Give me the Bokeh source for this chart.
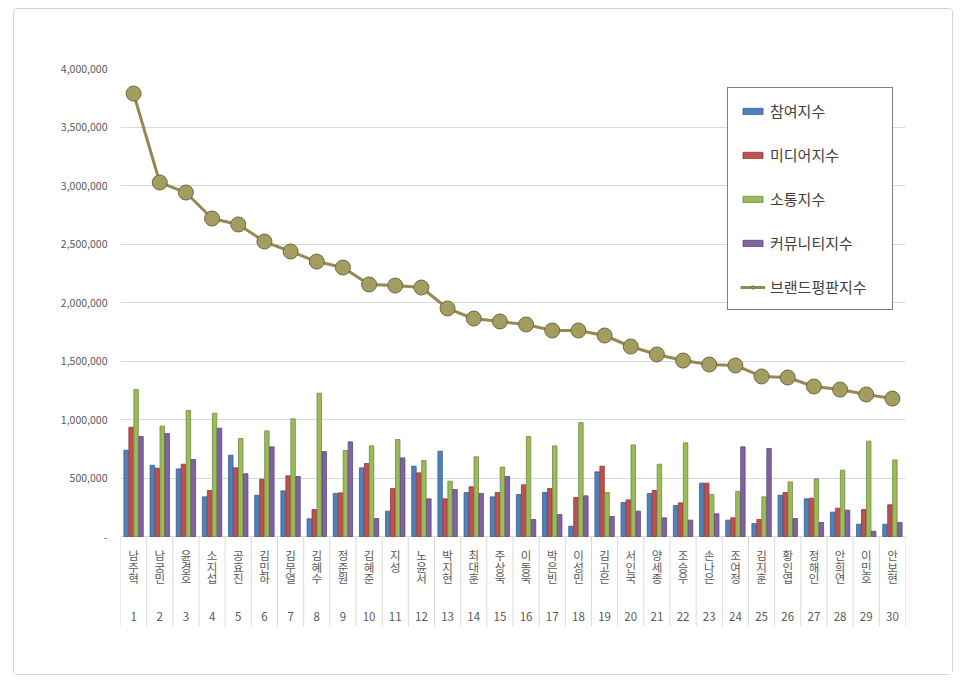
from bokeh.plotting import figure
from bokeh.models import (FixedTicker, CustomJSTickFormatter, Legend, LegendItem,
                          ColumnDataSource, Range1d)
from bokeh.transform import dodge
from bokeh.core.properties import value
from bokeh.embed import file_html
from bokeh.resources import INLINE

# ---------------- data ----------------
ranks = list(range(1, 31))
names = ["남주혁", "남궁민", "윤경호", "소지섭", "공효진", "김민하", "김무열", "김혜수", "정준원", "김혜준",
         "지성", "노윤서", "박지현", "최대훈", "주상욱", "이동욱", "박은빈", "이성민", "김고은", "서인국",
         "양세종", "조승우", "손나은", "조여정", "김지훈", "황인엽", "정해인", "안희연", "이민호", "안보현"]
participation = [738000, 609000, 578000, 339000, 695000, 353000, 390000, 151000, 368000, 587000,
                 217000, 601000, 729000, 376000, 339000, 359000, 376000, 88000, 553000, 291000,
                 368000, 265000, 456000, 140000, 111000, 353000, 322000, 208000, 105000, 105000]
media = [934000, 584000, 618000, 393000, 587000, 490000, 519000, 231000, 373000, 624000,
         410000, 544000, 322000, 425000, 376000, 442000, 410000, 333000, 601000, 313000,
         393000, 288000, 456000, 160000, 145000, 376000, 328000, 242000, 231000, 271000]
communication = [1256000, 943000, 1077000, 1054000, 838000, 903000, 1006000, 1225000, 735000, 775000,
                 829000, 650000, 473000, 681000, 593000, 855000, 775000, 974000, 376000, 783000,
                 618000, 801000, 359000, 385000, 339000, 467000, 493000, 567000, 815000, 655000]
community = [855000, 880000, 658000, 926000, 536000, 767000, 513000, 726000, 809000, 154000,
             672000, 322000, 402000, 368000, 513000, 145000, 188000, 348000, 171000, 217000,
             160000, 140000, 194000, 767000, 752000, 154000, 120000, 225000, 45000, 120000]
brand = [3786000, 3026000, 2940000, 2718000, 2667000, 2521000, 2436000, 2350000, 2299000, 2154000,
         2145000, 2128000, 1949000, 1863000, 1838000, 1812000, 1761000, 1761000, 1718000, 1624000,
         1556000, 1504000, 1470000, 1462000, 1368000, 1359000, 1282000, 1256000, 1214000, 1179000]
series_labels = ["참여지수", "미디어지수", "소통지수", "커뮤니티지수", "브랜드평판지수"]
y_ticks = [0, 500000, 1000000, 1500000, 2000000, 2500000, 3000000, 3500000, 4000000]

# ---------------- figure ----------------
KFONT = "Noto Sans CJK KR"
Y_MIN = -769000
p = figure(width=940, height=667, x_range=Range1d(0.5, len(ranks) + 0.5),
           y_range=Range1d(Y_MIN, y_ticks[-1]),
           output_backend="svg", toolbar_location=None,
           min_border_left=106, min_border_right=49, min_border_top=59, min_border_bottom=50)
p.styles = {"border": "1px solid #d4d4d4", "border-radius": "4px",
            "position": "relative", "left": "13px", "top": "8px"}
p.outline_line_color = None
p.background_fill_color = "white"
p.border_fill_color = "white"

p.xaxis.visible = False
p.xgrid.visible = False
ticker = FixedTicker(ticks=y_ticks)
p.yaxis.ticker = ticker
p.ygrid.ticker = ticker
p.ygrid.grid_line_color = "#d9d9d9"
p.yaxis.formatter = CustomJSTickFormatter(
    code="return tick == 0 ? '-' : Math.round(tick).toLocaleString('en-US');")
p.yaxis.axis_line_color = None
p.yaxis.major_tick_line_color = None
p.yaxis.minor_tick_line_color = None
p.yaxis.major_label_text_font = KFONT
p.yaxis.major_label_text_font_size = "10.5px"
p.yaxis.major_label_text_color = "#595959"
p.yaxis.major_label_standoff = 7

src = ColumnDataSource(dict(rank=ranks, participation=participation, media=media,
                            communication=communication, community=community, brand=brand))

bw = 0.19
specs = [("participation", -1.5, "#4F81BD", "#385D8A"),
         ("media", -0.5, "#C0504D", "#8C3836"),
         ("communication", 0.5, "#9BBB59", "#71893F"),
         ("community", 1.5, "#8064A2", "#5C4776")]
bar_renderers = []
for col, k, fc, lc in specs:
    r = p.vbar(x=dodge("rank", k * bw, range=p.x_range), top=col, bottom=0, width=bw - 0.02,
               source=src, fill_color=fc, line_color=lc, line_width=0.8)
    bar_renderers.append(r)

line_r = p.line(x="rank", y="brand", source=src, line_color="#948A54", line_width=3)
dot_r = p.scatter(x="rank", y="brand", source=src, size=15, fill_color="#A39D62",
                  line_color="#6E6938", line_width=1)

# category labels (names stacked vertically, ranks below)
boundaries = [i + 0.5 for i in range(len(ranks) + 1)]
p.segment(x0=boundaries, y0=[0] * len(boundaries), x1=boundaries, y1=[Y_MIN] * len(boundaries),
          line_color="#d9d9d9", line_width=1)
for k in range(3):
    xs = [r for r, n in zip(ranks, names) if len(n) > k]
    chars = [n[k] for n in names if len(n) > k]
    p.text(x=xs, y=[0] * len(xs), text=chars, y_offset=18.5 + 11.7 * k,
           text_align="center", text_baseline="middle", text_font=value(KFONT),
           text_font_size="11.5px", text_color="#595959")
p.text(x=ranks, y=[0] * len(ranks), text=[str(r) for r in ranks], y_offset=80,
       text_align="center", text_baseline="middle", text_font=value(KFONT),
       text_font_size="11.5px", text_color="#595959")

items = [LegendItem(label=series_labels[i], renderers=[bar_renderers[i]]) for i in range(4)]
items.append(LegendItem(label=series_labels[4], renderers=[line_r, dot_r]))
legend = Legend(items=items, location=(607, 316), border_line_color="black", border_line_width=1,
                label_text_font=KFONT, label_text_font_size="15px", label_text_color="#404040",
                glyph_width=25, glyph_height=8, label_height=19, spacing=23, padding=12,
                label_standoff=5, label_width=110, margin=0, background_fill_color="white")
p.add_layout(legend, "center")

open("out.html", "w").write(file_html(p, INLINE))
